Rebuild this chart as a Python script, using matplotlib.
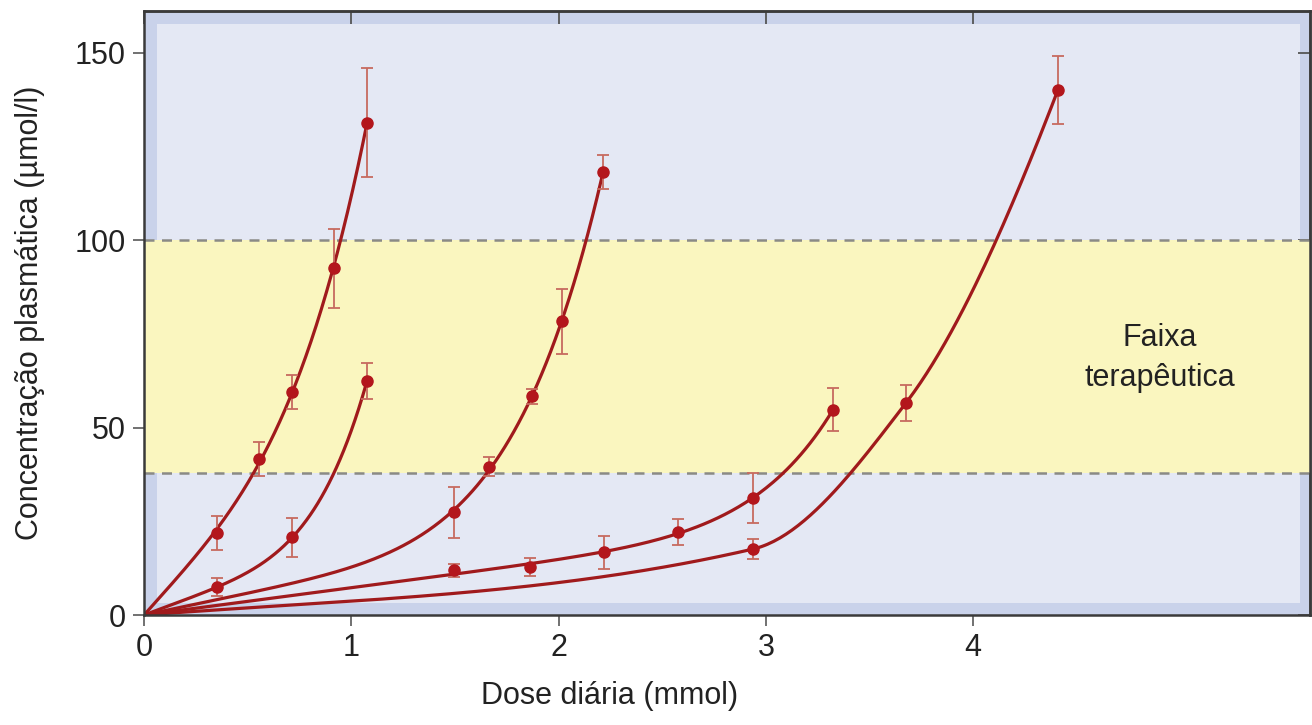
"""Dose diária vs concentração plasmática — curvas individuais com faixa terapêutica."""
import matplotlib
matplotlib.use("Agg")
import matplotlib.pyplot as plt
from matplotlib.patches import Rectangle
import numpy as np

plt.rcParams["font.family"] = ["Liberation Sans", "DejaVu Sans"]

# patient curves: dose (mmol), mean concentration (umol/l), error bar half-width
c1_x = [0.35, 0.555, 0.715, 0.915, 1.075]
c1_y = [21.8, 41.7, 59.4, 92.5, 131.3]
c1_e = [4.5, 4.5, 4.5, 10.5, 14.5]

c2_x = [0.35, 0.715, 1.075]
c2_y = [7.4, 20.7, 62.3]
c2_e = [2.4, 5.2, 4.8]

c3_x = [1.495, 1.664, 1.872, 2.016, 2.214]
c3_y = [27.4, 39.6, 58.3, 78.3, 118.2]
c3_e = [6.8, 2.5, 2.0, 8.7, 4.5]

c4_x = [1.495, 1.862, 2.219, 2.576, 2.938, 3.324]
c4_y = [11.9, 12.8, 16.7, 22.1, 31.2, 54.8]
c4_e = [1.8, 2.4, 4.5, 3.4, 6.7, 5.8]

c5_x = [2.938, 3.676, 4.409]
c5_y = [17.6, 56.6, 140.1]
c5_e = [2.6, 4.8, 9.0]

range_low, range_high = 38, 100
x_ticks = [0, 1, 2, 3, 4]
y_ticks = [0, 50, 100, 150]

LINE = "#a01a1c"
DOT = "#b3161c"
BAR = "#c76a5f"
START_SLOPE_FRAC = 0.7


def fit_curve(xk, yk, n=300):
    """least-squares y = a*x + b*x**p (a, b >= 0), best p on a grid"""
    xk = np.asarray(xk, float)
    yk = np.asarray(yk, float)
    best = None
    for p in np.arange(1.5, 12.0, 0.01):
        A = np.column_stack([xk, xk**p])
        coef, *_ = np.linalg.lstsq(A, yk, rcond=None)
        if coef.min() < 0:
            continue
        sse = np.sum((A @ coef - yk) ** 2)
        if best is None or sse < best[0]:
            best = (sse, coef, p)
    _, (a, b), p = best
    xs = np.linspace(0, xk[-1], n)
    return xs, a * xs + b * xs**p


def trace_curve(xk, yk, n=300):
    """monotone cubic (Fritsch-Carlson) through origin + points"""
    xk = np.concatenate([[0.0], np.asarray(xk, float)])
    yk = np.concatenate([[0.0], np.asarray(yk, float)])
    h = np.diff(xk)
    delta = np.diff(yk) / h
    d = np.zeros_like(xk)
    for i in range(1, len(xk) - 1):
        if delta[i - 1] * delta[i] > 0:
            w1 = 2 * h[i] + h[i - 1]
            w2 = h[i] + 2 * h[i - 1]
            d[i] = (w1 + w2) / (w1 / delta[i - 1] + w2 / delta[i])
    d[0] = START_SLOPE_FRAC * delta[0]
    de = ((2 * h[-1] + h[-2]) * delta[-1] - h[-1] * delta[-2]) / (h[-1] + h[-2])
    if np.sign(de) != np.sign(delta[-1]):
        de = 0.0
    d[-1] = de
    xs = np.linspace(xk[0], xk[-1], n)
    idx = np.clip(np.searchsorted(xk, xs) - 1, 0, len(h) - 1)
    t = (xs - xk[idx]) / h[idx]
    h00 = 2 * t**3 - 3 * t**2 + 1
    h10 = t**3 - 2 * t**2 + t
    h01 = -2 * t**3 + 3 * t**2
    h11 = t**3 - t**2
    ys = h00 * yk[idx] + h10 * h[idx] * d[idx] + h01 * yk[idx + 1] + h11 * h[idx] * d[idx + 1]
    return xs, ys


fig = plt.figure(figsize=(13.12, 7.25), dpi=100)
ax = fig.add_axes([0.1098, 0.1517, 0.8887, 0.8335])
ax.set_xlim(0, 5.625)
ax.set_ylim(0, 161.2)

# framed background
ax.set_facecolor("#c9d2ea")
ax.add_patch(Rectangle((0.011, 0.02), 1 - 0.011 - 0.0086, 1 - 0.02 - 0.0215,
                       transform=ax.transAxes, facecolor="#e4e8f4", edgecolor="none", zorder=0))
ax.axhspan(range_low, range_high, facecolor="#faf6bf", edgecolor="none", zorder=1)
for yv in (range_low, range_high):
    ax.axhline(yv, color="#8a8a86", lw=1.8, dashes=(4, 3), zorder=2)

curves = [(c1_x, c1_y, c1_e, fit_curve), (c2_x, c2_y, c2_e, fit_curve),
          (c3_x, c3_y, c3_e, fit_curve), (c4_x, c4_y, c4_e, fit_curve),
          (c5_x, c5_y, c5_e, trace_curve)]
for xs_, ys_, es_, make in curves:
    cx, cy = make(xs_, ys_)
    ax.plot(cx, cy, color=LINE, lw=2.3, zorder=3, solid_capstyle="round")
    ax.errorbar(xs_, ys_, yerr=es_, fmt="none", ecolor=BAR, elinewidth=1.3,
                capsize=4.5, capthick=1.3, zorder=4)
    ax.plot(xs_, ys_, "o", color=DOT, ms=8, mec=DOT, zorder=5)

ax.text(4.90, 68.5, "Faixa\nterapêutica", fontsize=22, ha="center", va="center",
        linespacing=1.45, color="#222222", zorder=6)

ax.set_xticks(x_ticks)
ax.set_yticks(y_ticks)
ax.tick_params(direction="out", length=8, width=1.3, color="#666666",
               labelsize=22, labelcolor="#222222", pad=5)
for sp in ax.spines.values():
    sp.set_color("#3a3a3a")
    sp.set_linewidth(1.8)
    sp.set_zorder(7)

# inward ticks on top and right
top = ax.secondary_xaxis("top")
top.set_xticks(x_ticks)
top.tick_params(direction="in", length=9, width=1.3, color="#555555", labeltop=False)
right = ax.secondary_yaxis("right")
right.set_yticks(y_ticks)
right.tick_params(direction="in", length=9, width=1.3, color="#555555", labelright=False)
for sec in (top, right):
    for sp in sec.spines.values():
        sp.set_color("#3a3a3a")
        sp.set_linewidth(1.8)

ax.set_xlabel("Dose diária (mmol)", fontsize=22, color="#222222")
ax.xaxis.set_label_coords(0.399, -0.11)
ax.set_ylabel("Concentração plasmática (µmol/l)", fontsize=22, color="#222222")
ax.yaxis.set_label_coords(-0.085, 0.5)

fig.savefig("out.png", dpi=100)
